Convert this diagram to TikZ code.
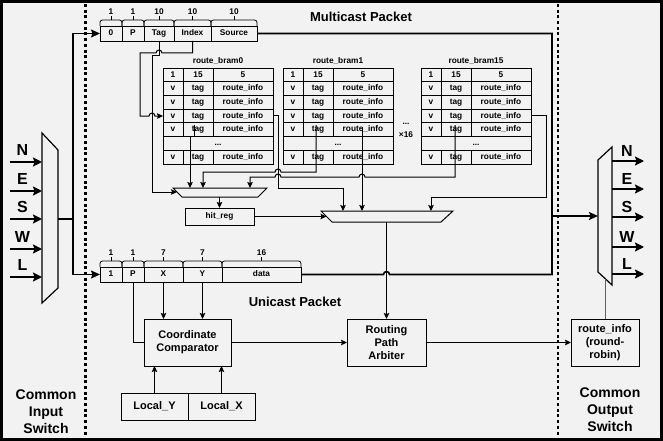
\documentclass[tikz,border=0pt]{standalone}
\usepackage{fontspec}
\setmainfont{Liberation Sans}
\usepackage{tikz}
\usetikzlibrary{arrows.meta,positioning}
\definecolor{bggray}{RGB}{242,242,242}
\definecolor{linkgray}{RGB}{95,95,95}
\newcommand{\smallf}{\fontsize{8.3}{9.5}\selectfont\bfseries}
\newcommand{\boxf}{\fontsize{11}{13}\selectfont\bfseries}
\newcommand{\titlef}{\fontsize{13}{15}\selectfont\bfseries}
\newcommand{\dirf}{\fontsize{16}{18}\selectfont\bfseries}
\newcommand{\sidef}{\fontsize{14}{17}\selectfont\bfseries}
\tikzset{node distance=10pt, auto}
\tikzset{
	cellbox/.style={draw, line width=0.8pt, inner sep=0pt, outer sep=0pt, minimum height=13.7, text height=6pt, text depth=1.6pt, anchor=north west, font=\smallf},
	fieldbox/.style={draw, line width=0.8pt, inner sep=0pt, outer sep=0pt, minimum height=15, text height=6pt, text depth=1.6pt, anchor=north west, font=\smallf},
	blockbox/.style={draw, line width=1pt, inner sep=0pt, outer sep=0pt, align=center, font=\boxf},
	wireline/.style={line width=1pt},
	wirearrow/.style={line width=1pt, -{Stealth[length=6pt, width=5.5pt, inset=1pt]}},
	busline/.style={line width=1.6pt},
	busarrow/.style={line width=1.6pt, -{Stealth[length=9pt, width=8pt, inset=1.5pt]}},
	portarrow/.style={line width=2.2pt, -{Stealth[length=9pt, width=9pt, inset=1.5pt]}},
	fenceline/.style={line width=2.7pt, dash pattern=on 3pt off 2.7pt},
}

\begin{document}
\begin{tikzpicture}[x=1pt, y=-1pt]
		\useasboundingbox (0,0) rectangle (663,441);
		\fill[bggray] (0,0) rectangle (663,441);
		%switch borders
		\draw[fenceline] (85.5,4) -- (85.5,437);
		\draw[fenceline] (558,4) -- (558,437);
		\draw[line width=3pt] (1.5,1.5) rectangle (661.5,439.5);

		\node[font=\titlef] (mtitle) at (361,17) {Multicast Packet};
		\node[font=\titlef] (utitle) at (295,302) {Unicast Packet};
		\node[font=\sidef, align=center] (cin) at (46,412) {Common\\Input\\Switch};
		\node[font=\sidef, align=center] (cout) at (610,410) {Common\\Output\\Switch};

		%packet fields
		\foreach \fn/\fx/\fw/\ft/\fb in {m0/100/22/0/1, mP/122/22/P/1, mTag/144/30/Tag/10, mIdx/174/37/Index/10, mSrc/211/46/Source/10}{
			\node[fieldbox, minimum width=\fw] (\fn) at (\fx,26) {\ft};
			\draw[line width=0.8pt, rounded corners=2.5pt] (\fn.north west) -- ++(0,-6) -- ++(\fw,0) -- (\fn.north east);
			\draw[line width=0.8pt] (\fn.north) ++(0,-6) -- ++(0,-4) node[anchor=south, inner sep=1pt, font=\smallf] (\fn-bits) {\fb};
		}
		\foreach \fn/\fx/\fw/\ft/\fb in {u1/100/22/1/1, uP/122/22/P/1, uX/144/39/X/7, uY/183/39/Y/7, uData/222/79/data/16}{
			\node[fieldbox, minimum width=\fw] (\fn) at (\fx,267) {\ft};
			\draw[line width=0.8pt, rounded corners=2.5pt] (\fn.north west) -- ++(0,-6) -- ++(\fw,0) -- (\fn.north east);
			\draw[line width=0.8pt] (\fn.north) ++(0,-6) -- ++(0,-4) node[anchor=south, inner sep=1pt, font=\smallf] (\fn-bits) {\fb};
		}

		%route tables
		\foreach \k/\x in {0/163, 1/283, 15/421}{
			\node[font=\smallf] (b\k-t) at ({\x+55},61) {route\_bram\k};
			\node[cellbox, minimum width=20] (b\k-0-a) at (\x,68) {1};
			\node[cellbox, minimum width=30] (b\k-0-b) at ({\x+20},68) {15};
			\node[cellbox, minimum width=60] (b\k-0-c) at ({\x+50},68) {5};
			\foreach \r in {1,2,3,4,6}{
				\node[cellbox, minimum width=20] (b\k-\r-a) at (\x,{68+13.7*\r}) {v};
				\node[cellbox, minimum width=30] (b\k-\r-b) at ({\x+20},{68+13.7*\r}) {tag};
				\node[cellbox, minimum width=60] (b\k-\r-c) at ({\x+50},{68+13.7*\r}) {route\_info};
			}
			\node[cellbox, minimum width=110] (b\k-5) at (\x,{68+13.7*5}) {...};
		}
		\node[font=\smallf] (more) at (406,124) {...};
		\node[font=\smallf] (times16) at (406,135) {×16};

		%blocks
		\node[blockbox, minimum width=69, minimum height=17, font=\smallf] (hitreg) at (219.5,216.5) {hit\_reg};
		\node[blockbox, minimum width=87, minimum height=47] (cmp) at (187.5,342.5) {Coordinate\\Comparator};
		\node[blockbox, minimum width=79, minimum height=47] (arb) [right=116pt of cmp] {Routing\\Path\\Arbiter};
		\node[blockbox, minimum width=68, minimum height=47] (rinfo) [right=145pt of arb] {route\_info\\(round-\\robin)};
		\node[blockbox, minimum width=67, minimum height=27] (locy) at (154.5,406.5) {Local\_Y};
		\node[blockbox, minimum width=67, minimum height=27] (locx) [right=0pt of locy] {Local\_X};

		%muxes
		\draw[wireline, line width=1.2pt] (42,133) -- (58,150) -- (58,288) -- (42,303) -- cycle;
		\draw[wireline, line width=1.2pt] (598,160) -- (612,147) -- (612,285) -- (598,272) -- cycle;
		\draw[wireline] (173,188) -- (267,188) -- (258,197) -- (182,197) -- cycle;
		\draw[wireline] (321,211) -- (453,211) -- (441,222) -- (332,222) -- cycle;
		\coordinate (imux-out) at (58,219);
		\coordinate (split) at (73,219);
		\coordinate (omux-in) at (598,216);
		\coordinate (omux-bot) at (605,278.5);
		\coordinate (smux-in) at (177,192);
		\coordinate (smux-a) at (190,188);
		\coordinate (smux-b) at (203,188);
		\coordinate (smux-c) at (250,188);
		\coordinate (smux-out) at (219.5,197);
		\coordinate (bmux-in) at (326.5,216.5);
		\coordinate (bmux-a) at (343,211);
		\coordinate (bmux-b) at (362,211);
		\coordinate (bmux-c) at (431,211);
		\coordinate (bmux-out) at (386.5,222);
		\coordinate (rt) at (552,216);
		\coordinate (t0) at (194,125);
		\coordinate (t1) at (316,125);
		\coordinate (t15) at (455,125);
		\coordinate (r1) at (362,127);

		%switch ports
		\foreach \d/\y in {N/162, E/191, S/219, W/249, L/277}{
			\coordinate (in\d) at (10,\y);
			\coordinate (imux-\d) at (42,\y);
			\node[font=\dirf] (lin\d) at (22.5,{\y-12}) {\d};
			\draw[portarrow] (in\d) -- (imux-\d);
		}
		\foreach \d/\y in {N/161, E/189, S/217, W/247, L/274}{
			\coordinate (omux-\d) at (612,\y);
			\coordinate (out\d) at (644,\y);
			\node[font=\dirf] (lout\d) at (627,{\y-10}) {\d};
			\draw[portarrow] (omux-\d) -- (out\d);
		}

		%input side
		\draw[busline] (imux-out) -- (split);
		\draw[busarrow] (split) |- (m0.west);
		\draw[busarrow] (split) |- (u1.west);
		\draw[busline] (mSrc.east) -| (rt) |- (389.5,274.5) arc[start angle=0, end angle=-180, radius=3] -- (uData.east);
		\draw[busarrow] (rt) -- (omux-in);

		%multicast lookup
		\draw[wirearrow] (mIdx.south) -- ++(0,12) -- (162,53) arc[start angle=0, end angle=-180, radius=3] -- (140,53) |- (149,116.05) arc[start angle=180, end angle=360, radius=3] -- (b0-3-a.west);
		\draw[wirearrow] (mTag.south) -- ++(0,15) -- (152,56) |- (smux-in);
		\draw[wirearrow] (t0) -- ++(0,11) -| (smux-a);
		\draw[wirearrow] (t1) -- (316,172) -- (281,172) arc[start angle=0, end angle=-180, radius=3] -| (smux-b);
		\draw[wirearrow] (t15) -- (455,177) -- (365,177) arc[start angle=0, end angle=-180, radius=3] -- (281,177) arc[start angle=0, end angle=-180, radius=3] -| (smux-c);
		\draw[wirearrow] (b0-3-c.east) -| (278,188) -| (bmux-a);
		\draw[wirearrow] (r1) -- (bmux-b);
		\draw[wirearrow] (b15-3-c.east) -| (546,197) -| (bmux-c);
		\draw[wirearrow] (smux-out) to node {} (hitreg.north);
		\draw[wirearrow] (hitreg.east) to node {} (bmux-in);
		\draw[wirearrow, line width=1.4pt] (bmux-out) to node {} (arb.north);

		%unicast compare
		\draw[wireline] (uP.south) |- (cmp.west);
		\draw[wirearrow] (uX.south) -- (uX.south |- cmp.north);
		\draw[wirearrow] (uY.south) -- (uY.south |- cmp.north);
		\draw[wirearrow] (locy.north) -- (locy.north |- cmp.south);
		\draw[wirearrow] (locx.north) -- (locx.north |- cmp.south);
		\draw[wirearrow] (cmp.east) to node {} (arb.west);
		\draw[wirearrow, line width=1.4pt] (arb.east) to node {} (rinfo.west);
		\draw[line width=0.7pt, linkgray] (rinfo.north) -- (omux-bot);
\end{tikzpicture}
\end{document}
